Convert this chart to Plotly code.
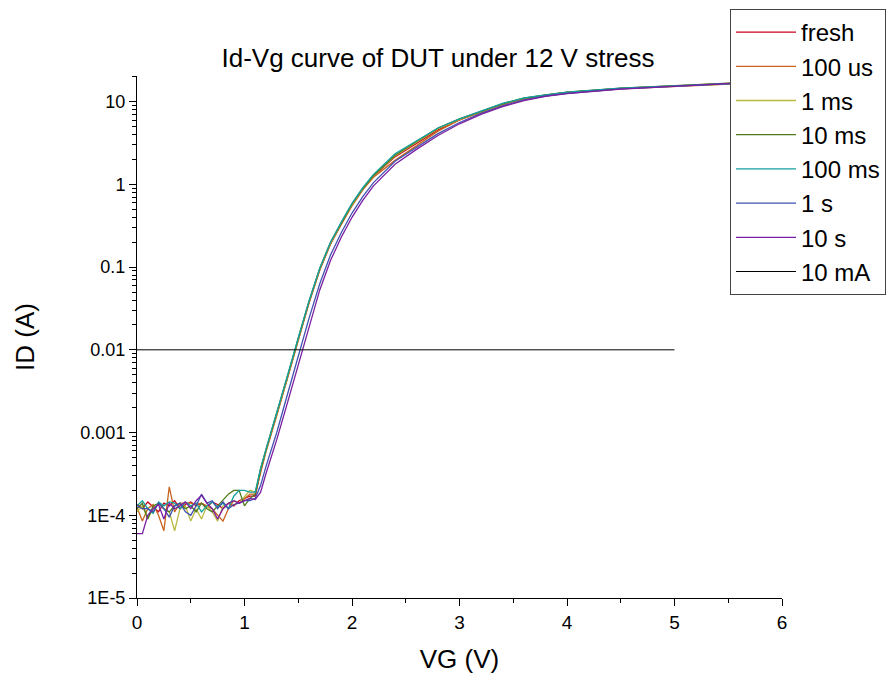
import plotly.graph_objects as go

# Gate voltage grid (V)
vg = [0.00, 0.05, 0.10, 0.15, 0.20, 0.25, 0.30, 0.35, 0.40, 0.45, 0.50, 0.55,
      0.60, 0.65, 0.70, 0.75, 0.80, 0.85, 0.90, 0.95, 1.00, 1.05,
      1.10, 1.15, 1.20, 1.30, 1.40, 1.50, 1.60, 1.70, 1.80, 1.90, 2.00, 2.10,
      2.20, 2.40, 2.60, 2.80, 3.00, 3.20, 3.40, 3.60, 3.80, 4.00, 4.50, 5.00,
      5.50, 6.00]

# Drain current (A) for each stress time
id_fresh = [1.35e-4, 1.2e-4, 1.45e-4, 1.25e-4, 1.1e-4, 1.4e-4, 1.3e-4, 1.5e-4, 1.2e-4, 1.35e-4, 1.45e-4, 1.3e-4,
            1.4e-4, 1.25e-4, 1.45e-4, 1.35e-4, 1.2e-4, 1.4e-4, 1.3e-4, 1.5e-4, 1.6e-4, 1.7e-4,
            1.7e-4, 3.5e-4, 6.0e-4, 1.62e-3, 4.6e-3, 1.32e-2, 3.7e-2, 9.3e-2, 0.19, 0.33, 0.56, 0.87,
            1.25, 2.15, 3.15, 4.55, 6.0, 7.5, 9.3, 10.9, 12.0, 12.9, 14.5, 15.5, 16.6, 17.4]
id_100us = [1.25e-4, 8.5e-5, 1.2e-4, 1.35e-4, 1.0e-4, 6.5e-5, 2.2e-4, 1.1e-4, 1.4e-4, 1.4e-4, 1.4e-4, 1.35e-4,
            1.4e-4, 1.3e-4, 1.2e-4, 1.0e-4, 8.5e-5, 1.2e-4, 1.5e-4, 1.4e-4, 1.6e-4, 1.8e-4,
            1.8e-4, 3.4e-4, 5.9e-4, 1.6e-3, 4.5e-3, 1.3e-2, 3.7e-2, 9.2e-2, 0.19, 0.33, 0.55, 0.86,
            1.22, 1.95, 2.9, 4.4, 6.0, 7.4, 9.2, 10.8, 11.8, 12.7, 14.3, 15.3, 16.5, 17.3]
id_1ms = [1.1e-4, 1.3e-4, 9e-5, 1.2e-4, 1.4e-4, 1.2e-4, 1.1e-4, 6.5e-5, 1.2e-4, 1.3e-4, 8.5e-5, 1.2e-4,
          9e-5, 1.3e-4, 1.1e-4, 8.5e-5, 1.3e-4, 1.4e-4, 1.5e-4, 1.4e-4, 1.7e-4, 2.0e-4,
          1.9e-4, 3.6e-4, 6.1e-4, 1.65e-3, 4.7e-3, 1.35e-2, 3.8e-2, 9.5e-2, 0.195, 0.34, 0.57, 0.88,
          1.27, 2.2, 3.2, 4.7, 6.1, 7.6, 9.4, 11.0, 12.0, 12.9, 14.5, 15.5, 16.6, 17.4]
id_10ms = [1.2e-4, 1.4e-4, 9e-5, 1.3e-4, 1.4e-4, 1.2e-4, 1.1e-4, 1.3e-4, 1.4e-4, 1.2e-4, 1.3e-4, 1.1e-4,
           1.4e-4, 1.2e-4, 1.1e-4, 1.3e-4, 1.5e-4, 1.8e-4, 2.0e-4, 2.0e-4, 1.3e-4, 1.6e-4,
           1.8e-4, 3.6e-4, 6.2e-4, 1.68e-3, 4.8e-3, 1.37e-2, 3.85e-2, 9.6e-2, 0.2, 0.34, 0.58, 0.89,
           1.28, 2.25, 3.25, 4.8, 6.2, 7.7, 9.4, 11.0, 12.1, 13.0, 14.6, 15.6, 16.7, 17.5]
id_100ms = [1.3e-4, 1.5e-4, 1.2e-4, 1.05e-4, 1.45e-4, 1.3e-4, 1.45e-4, 1.4e-4, 1.2e-4, 1.45e-4, 1.3e-4, 1.4e-4,
            1.1e-4, 1.3e-4, 1.45e-4, 1.25e-4, 1.4e-4, 1.2e-4, 1.7e-4, 2.0e-4, 2.0e-4, 1.9e-4,
            1.9e-4, 3.7e-4, 6.3e-4, 1.7e-3, 4.9e-3, 1.4e-2, 3.9e-2, 9.7e-2, 0.2, 0.35, 0.59, 0.91,
            1.32, 2.35, 3.35, 4.8, 6.2, 7.7, 9.5, 11.1, 12.1, 13.0, 14.6, 15.6, 16.7, 17.5]
id_1s = [1.3e-4, 1.2e-4, 1.2e-4, 1.1e-4, 1.4e-4, 1.2e-4, 9.5e-5, 1.3e-4, 1.4e-4, 1.1e-4, 1.0e-4, 1.3e-4,
         1.8e-4, 1.4e-4, 1.5e-4, 1.2e-4, 1.45e-4, 1.2e-4, 1.35e-4, 1.4e-4, 1.5e-4, 1.5e-4,
         1.6e-4, 2.3e-4, 3.9e-4, 1.0e-3, 2.9e-3, 8.3e-3, 2.4e-2, 6.3e-2, 0.14, 0.26, 0.45, 0.71,
         1.05, 1.9, 2.8, 4.1, 5.6, 7.2, 8.9, 10.5, 11.7, 12.6, 14.3, 15.4, 16.5, 17.3]
id_10s = [6.0e-5, 6.0e-5, 1.0e-4, 1.2e-4, 1.35e-4, 9.0e-5, 1.4e-4, 1.2e-4, 1.3e-4, 1.45e-4, 1.2e-4, 1.5e-4,
          1.75e-4, 1.4e-4, 1.2e-4, 9.0e-5, 1.2e-4, 1.4e-4, 1.5e-4, 1.4e-4, 1.5e-4, 1.6e-4,
          1.55e-4, 1.9e-4, 3.2e-4, 8.2e-4, 2.3e-3, 6.7e-3, 1.95e-2, 5.3e-2, 0.12, 0.23, 0.40, 0.64,
          0.96, 1.75, 2.65, 3.9, 5.4, 7.0, 8.7, 10.3, 11.6, 12.5, 14.2, 15.4, 16.5, 17.3]

# 10 mA reference line
vg_ref = [0, 5]
id_ref = [0.01, 0.01]

series_names = ["fresh", "100 us", "1 ms", "10 ms", "100 ms", "1 s", "10 s"]
series_vals = [id_fresh, id_100us, id_1ms, id_10ms, id_100ms, id_1s, id_10s]
colors = ["#C8001E", "#C8641E", "#B9B943", "#4F7A1C", "#13A0A0", "#3F52B0", "#7B1FA2"]

y_tick_vals = [1e-5, 1e-4, 1e-3, 1e-2, 1e-1, 1, 10]
y_tick_text = ["1E-5", "1E-4", "0.001", "0.01", "0.1", "1", "10"]

FONT = "Liberation Sans, Arial, sans-serif"

# the page adds an 8 px body margin, so the figure is drawn 8 px smaller
W, H = 887, 679
L, R, T, B = 129, 113, 68, 89

fig = go.Figure()
for name, vals, c in zip(series_names, series_vals, colors):
    fig.add_trace(go.Scatter(x=vg, y=vals, mode="lines", name=name,
                             line=dict(color=c, width=1.3)))
fig.add_trace(go.Scatter(x=vg_ref, y=id_ref, mode="lines", name="10 mA",
                         line=dict(color="black", width=1)))

minor_y = [m * 10 ** e for e in range(-5, 2) for m in range(2, 10)]
pw, ph = W - L - R, H - T - B

fig.update_layout(
    width=W, height=H,
    margin=dict(l=L, r=R, t=T, b=B, autoexpand=False),
    paper_bgcolor="white", plot_bgcolor="white",
    font=dict(family=FONT, color="black"),
    title=dict(text="Id-Vg curve of DUT under 12 V stress", x=430 / W, xanchor="center",
               y=1 - 50 / H, yanchor="middle", xref="container", yref="container",
               font=dict(size=26, family=FONT, color="black")),
    legend=dict(x=(722 - L) / pw, y=(H - B - 1) / ph, xanchor="left", yanchor="top",
                bgcolor="white", bordercolor="#444", borderwidth=1,
                font=dict(size=24, family=FONT, color="black"),
                tracegroupgap=0, itemwidth=60),
    showlegend=True,
)
fig.update_xaxes(range=[0, 6], tickvals=[0, 1, 2, 3, 4, 5, 6], ticks="outside", ticklen=7,
                 tickwidth=1, tickcolor="black", showline=True, linecolor="black", linewidth=1,
                 showgrid=False, zeroline=False, tickfont=dict(size=19), automargin=False,
                 minor=dict(tickvals=[0.5, 1.5, 2.5, 3.5, 4.5, 5.5], ticks="outside", ticklen=4,
                            tickcolor="black", showgrid=False),
                 title=dict(text="VG (V)", font=dict(size=26), standoff=18))
fig.update_yaxes(type="log", range=[-5, 1.31], tickvals=y_tick_vals, ticktext=y_tick_text,
                 ticks="outside", ticklen=7, tickwidth=1, tickcolor="black",
                 showline=True, linecolor="black", linewidth=1, showgrid=False, zeroline=False,
                 tickfont=dict(size=18), automargin=False,
                 minor=dict(tickvals=minor_y, ticks="outside", ticklen=4, tickcolor="black",
                            showgrid=False),
                 title=dict(text="ID (A)", font=dict(size=26), standoff=38))

fig.write_html("out.html")
